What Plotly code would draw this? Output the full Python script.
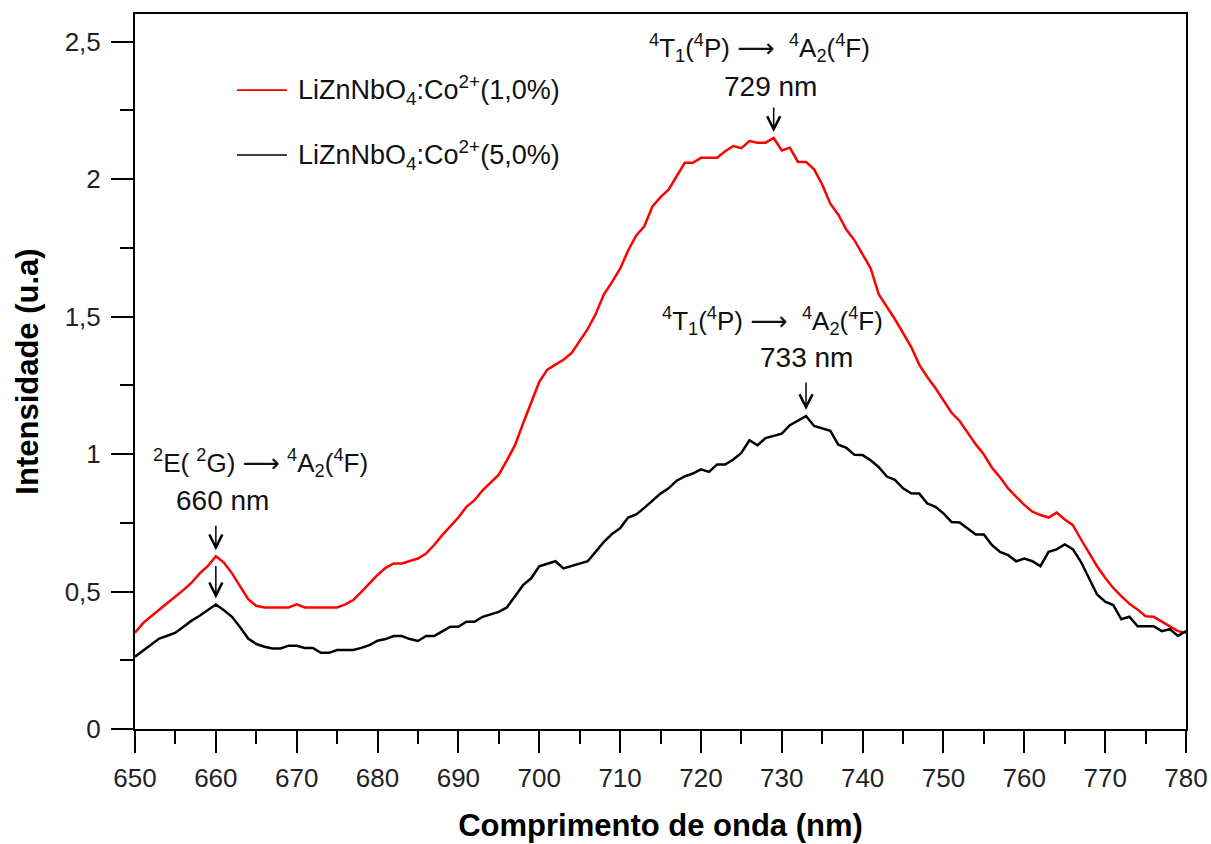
import plotly.graph_objects as go

wavelength = list(range(650, 781))

red_1pct = [
    0.350, 0.385, 0.410, 0.435, 0.460, 0.482, 0.506, 0.532, 0.566, 0.592,
    0.628, 0.605, 0.566, 0.517, 0.472, 0.448, 0.442, 0.442, 0.442, 0.442,
    0.453, 0.442, 0.442, 0.442, 0.442, 0.442, 0.453, 0.469, 0.499, 0.529,
    0.560, 0.586, 0.602, 0.602, 0.612, 0.620, 0.638, 0.669, 0.705, 0.738,
    0.769, 0.808, 0.832, 0.868, 0.897, 0.925, 0.977, 1.032, 1.111, 1.183,
    1.262, 1.307, 1.325, 1.343, 1.367, 1.410, 1.455, 1.510, 1.581, 1.625,
    1.674, 1.740, 1.795, 1.828, 1.900, 1.934, 1.961, 2.010, 2.059, 2.059,
    2.077, 2.077, 2.077, 2.101, 2.120, 2.112, 2.138, 2.132, 2.132, 2.149,
    2.104, 2.114, 2.062, 2.062, 2.035, 1.980, 1.910, 1.870, 1.815, 1.777,
    1.725, 1.675, 1.580, 1.535, 1.490, 1.440, 1.390, 1.325, 1.280, 1.240,
    1.195, 1.150, 1.120, 1.075, 1.035, 0.998, 0.950, 0.915, 0.875, 0.844,
    0.815, 0.790, 0.778, 0.769, 0.787, 0.762, 0.741, 0.690, 0.640, 0.592,
    0.550, 0.513, 0.483, 0.455, 0.435, 0.410, 0.408, 0.390, 0.374, 0.356,
    0.350,
]

black_5pct = [
    0.263, 0.285, 0.310, 0.329, 0.339, 0.350, 0.372, 0.394, 0.412, 0.432,
    0.453, 0.432, 0.408, 0.370, 0.329, 0.309, 0.299, 0.293, 0.293, 0.303,
    0.303, 0.295, 0.295, 0.277, 0.277, 0.287, 0.287, 0.287, 0.295, 0.305,
    0.321, 0.327, 0.338, 0.338, 0.327, 0.320, 0.338, 0.338, 0.355, 0.372,
    0.372, 0.390, 0.390, 0.408, 0.417, 0.426, 0.442, 0.481, 0.523, 0.548,
    0.592, 0.601, 0.610, 0.584, 0.592, 0.601, 0.610, 0.645, 0.681, 0.709,
    0.730, 0.769, 0.780, 0.804, 0.830, 0.856, 0.875, 0.903, 0.919, 0.929,
    0.944, 0.935, 0.962, 0.962, 0.980, 1.004, 1.050, 1.032, 1.058, 1.066,
    1.074, 1.105, 1.120, 1.138, 1.102, 1.092, 1.084, 1.034, 1.022, 0.997,
    0.996, 0.977, 0.952, 0.918, 0.906, 0.875, 0.857, 0.856, 0.820, 0.808,
    0.784, 0.753, 0.751, 0.729, 0.707, 0.707, 0.669, 0.644, 0.632, 0.610,
    0.620, 0.610, 0.592, 0.644, 0.653, 0.671, 0.654, 0.608, 0.548, 0.489,
    0.463, 0.451, 0.399, 0.408, 0.374, 0.374, 0.374, 0.356, 0.363, 0.338,
    0.356,
]

series_names = [
    "LiZnNbO<sub>4</sub>:Co<sup>2+</sup>(1,0%)",
    "LiZnNbO<sub>4</sub>:Co<sup>2+</sup>(5,0%)",
]
series_colors = ["#ff0000", "#000000"]

x_tickvals = list(range(650, 781, 10))
x_ticktext = [str(v) for v in x_tickvals]
y_tickvals = [0, 0.5, 1, 1.5, 2, 2.5]
y_ticktext = ["0", "0,5", "1", "1,5", "2", "2,5"]

ARROW = "<span style='font-family:DejaVu Sans'>\u27f6</span>"
transition_texts = [
    "<sup>2</sup>E( <sup>2</sup>G) " + ARROW + " <sup>4</sup>A<sub>2</sub>(<sup>4</sup>F)",
    "<sup>4</sup>T<sub>1</sub>(<sup>4</sup>P) " + ARROW + "  <sup>4</sup>A<sub>2</sub>(<sup>4</sup>F)",
    "<sup>4</sup>T<sub>1</sub>(<sup>4</sup>P) " + ARROW + "  <sup>4</sup>A<sub>2</sub>(<sup>4</sup>F)",
]
peak_texts = ["660 nm", "729 nm", "733 nm"]

FONT = "Liberation Sans, Arial, sans-serif"

fig = go.Figure()
for vals, name, col in zip([red_1pct, black_5pct], series_names, series_colors):
    fig.add_trace(go.Scatter(x=wavelength, y=vals, mode="lines", name=name,
                             line=dict(color=col, width=2.5), showlegend=False))

annotations = []
label_pos = [
    (665.5, 0.969, 660.8, 0.831),
    (727.2, 2.476, 728.6, 2.338),
    (728.8, 1.485, 733.0, 1.351),
]
for t, nm, (lx, ly, nx, ny) in zip(transition_texts, peak_texts, label_pos):
    annotations.append(dict(x=lx, y=ly, xref="x", yref="y", text=t, showarrow=False,
                            font=dict(family=FONT, size=26, color="#111")))
    annotations.append(dict(x=nx, y=ny, xref="x", yref="y", text=nm, showarrow=False,
                            font=dict(family=FONT, size=28, color="#111")))

arrow_specs = [
    (red_1pct, 660, -32),
    (black_5pct, 660, -40),
    (red_1pct, 729, -32),
    (black_5pct, 733, -35),
]
for vals, pk, ay in arrow_specs:
    idx = wavelength.index(pk)
    annotations.append(dict(x=pk, y=vals[idx], xref="x", yref="y", text="",
                            showarrow=True, arrowhead=5, arrowsize=1.7, arrowwidth=1.5,
                            arrowcolor="#000", ax=0, ay=ay, standoff=6))

legend_y = [0.8936, 0.8027]
shapes = []
for name, col, ly in zip(series_names, series_colors, legend_y):
    shapes.append(dict(type="line", xref="paper", yref="paper", x0=0.097, x1=0.1446,
                       y0=ly, y1=ly, line=dict(color=col, width=1.6)))
    annotations.append(dict(x=0.1532, y=ly, xref="paper", yref="paper", text=name,
                            showarrow=False, xanchor="left", yanchor="middle",
                            font=dict(family=FONT, size=27, color="#111")))

fig.update_layout(
    width=1211, height=844,
    margin=dict(l=135, r=25, t=14, b=115, autoexpand=False),
    paper_bgcolor="white", plot_bgcolor="white",
    font=dict(family=FONT, color="#222"),
    annotations=annotations, shapes=shapes,
    showlegend=False,
)

fig.update_xaxes(
    range=[650, 780], tickvals=x_tickvals, ticktext=x_ticktext,
    ticks="outside", ticklen=22, tickwidth=2, tickcolor="black",
    minor=dict(dtick=5, tick0=650, ticks="outside", ticklen=13, tickwidth=2, tickcolor="black"),
    showline=True, linewidth=2, linecolor="black", mirror=True,
    showgrid=False, zeroline=False, ticklabelstandoff=3, automargin=False,
    tickfont=dict(family=FONT, size=26, color="#222"),
    title=dict(text="<b>Comprimento de onda (nm)</b>", font=dict(family=FONT, size=31, color="black"), standoff=22),
)
fig.update_yaxes(
    range=[0, 2.6], tickvals=y_tickvals, ticktext=y_ticktext,
    ticks="outside", ticklen=22, tickwidth=2, tickcolor="black",
    minor=dict(dtick=0.25, tick0=0, ticks="outside", ticklen=13, tickwidth=2, tickcolor="black"),
    showline=True, linewidth=2, linecolor="black", mirror=True,
    showgrid=False, zeroline=False, ticklabelstandoff=5, automargin=False,
    tickfont=dict(family=FONT, size=26, color="#222"),
    title=dict(text="<b>Intensidade (u.a)</b>", font=dict(family=FONT, size=31, color="black"), standoff=17),
)

fig.write_html("out.html")
